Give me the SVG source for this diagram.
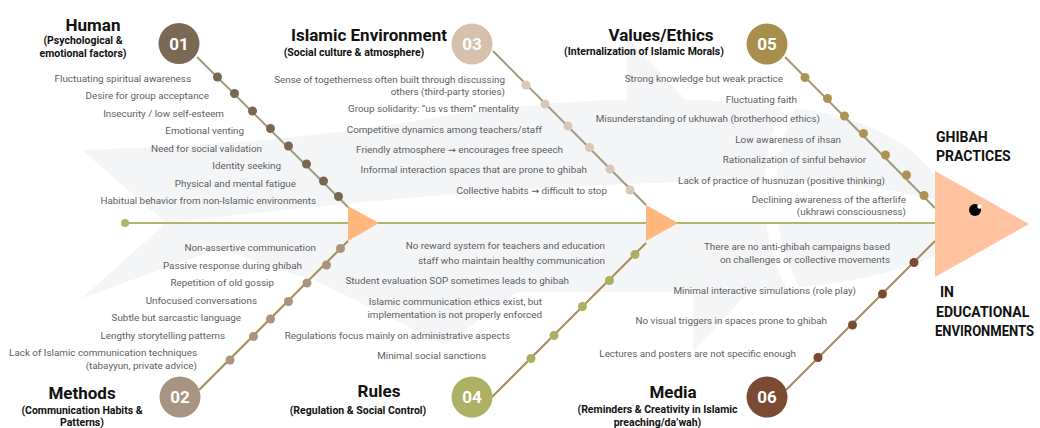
<svg xmlns="http://www.w3.org/2000/svg" width="1040" height="428" viewBox="0 0 1040 428">
  <style>
    text { font-family: Roboto, "Liberation Sans", Arial, sans-serif; }
    .lbl { font-size: 9.85px; fill: #5e5e5e; text-anchor: end; }
    .arr { font-family: "DejaVu Sans", sans-serif; font-size: 9.5px; }
    .ttl { font-size: 17px; font-weight: bold; fill: #111; text-anchor: middle; }
    .sub { font-size: 10.5px; font-weight: bold; fill: #111; text-anchor: middle; }
    .num { font-size: 17px; font-weight: bold; fill: #fff; text-anchor: middle; }
    .eff { font-size: 14px; font-weight: bold; fill: #111; }
    .bone-top { stroke: #9e9b7e; stroke-width: 2; fill: none; }
    .bone-bot { stroke: #a98c55; stroke-width: 2; fill: none; }
    .wm { fill: #f4f5f7; }
  </style>

  <rect width="1040" height="428" fill="#ffffff"/>

  <!-- faint fish-skeleton watermark -->
  <g id="watermark">
    <path class="wm" d="M82,150 C200,146 300,140 420,120 C560,96 700,92 820,112 C880,124 918,150 935,176 L935,200 C880,186 820,180 760,182 C600,180 400,196 166,223 Z"/>
    <path class="wm" d="M166,223 L935,223 L935,256 C880,280 800,292 700,292 L400,292 C320,290 250,262 166,223 Z"/>
    <path class="wm" d="M82,298 L166,223 L240,241 Z"/>
    <polygon class="wm" points="627,38 686,100 627,100"/>
    <polygon class="wm" points="693,288 693,352 752,288"/>
    <polygon class="wm" points="290,268 445,345 520,290"/>
    <path d="M790,106 C762,160 762,240 800,300" stroke="#fff" stroke-width="12" fill="none"/>
  </g>

  <!-- connectors: spine and branches -->
  <g id="connectors">
    <line x1="125" y1="223" x2="935" y2="223" stroke="#b2b46c" stroke-width="2"/>
    <circle cx="125" cy="223" r="4" fill="#b2b46c"/>
    <line class="bone-top" x1="197" y1="57" x2="348" y2="207"/>
    <line class="bone-top" x1="493" y1="51" x2="646" y2="205"/>
    <line class="bone-top" x1="785" y1="57" x2="935" y2="208"/>
    <line class="bone-bot" x1="199" y1="390" x2="348" y2="241"/>
    <line class="bone-bot" x1="491" y1="398" x2="646" y2="243"/>
    <line class="bone-bot" x1="786" y1="390" x2="935" y2="241"/>
    <polygon points="348,206 379,223 348,241" fill="#ffb77d"/>
    <polygon points="646,205 678,223 646,241" fill="#ffb77d"/>
  </g>

  <!-- 01 Human -->
  <g id="node-human">
    <text class="ttl" x="93" y="30.5">Human</text>
    <text class="sub" x="83" y="44">(Psychological &amp;</text>
    <text class="sub" x="83" y="56.5">emotional factors)</text>
    <circle cx="179" cy="43.5" r="20.5" fill="#7c6954"/>
    <text class="num" x="179" y="49.5">01</text>
    <g fill="#7a6752">
      <circle cx="217.5" cy="77" r="4.5"/><circle cx="234.5" cy="93.5" r="4.5"/>
      <circle cx="252.5" cy="111" r="4.5"/><circle cx="270.5" cy="128.5" r="4.5"/>
      <circle cx="288.5" cy="146" r="4.5"/><circle cx="306.5" cy="164" r="4.5"/>
      <circle cx="323.5" cy="181" r="4.5"/><circle cx="338.5" cy="196.5" r="4.5"/>
    </g>
    <text class="lbl" x="191" y="81.5">Fluctuating spiritual awareness</text>
    <text class="lbl" x="209" y="99">Desire for group acceptance</text>
    <text class="lbl" x="224" y="116.5">Insecurity / low self-esteem</text>
    <text class="lbl" x="244" y="134">Emotional venting</text>
    <text class="lbl" x="262" y="151.5">Need for social validation</text>
    <text class="lbl" x="281" y="169">Identity seeking</text>
    <text class="lbl" x="296" y="186.5">Physical and mental fatigue</text>
    <text class="lbl" x="316" y="204">Habitual behavior from non-Islamic environments</text>
  </g>

  <!-- 03 Islamic Environment -->
  <g id="node-environment">
    <text class="ttl" x="369" y="40.5">Islamic Environment</text>
    <text class="sub" x="354" y="55.5">(Social culture &amp; atmosphere)</text>
    <circle cx="472" cy="44" r="20.5" fill="#d7c1ad"/>
    <text class="num" x="472" y="50">03</text>
    <g fill="#dac7b5">
      <circle cx="526" cy="85" r="4.5"/><circle cx="545" cy="104" r="4.5"/>
      <circle cx="568" cy="126" r="4.5"/><circle cx="589.5" cy="147.5" r="4.5"/>
      <circle cx="610" cy="169" r="4.5"/><circle cx="630" cy="190" r="4.5"/>
    </g>
    <text class="lbl" x="505" y="82.5">Sense of togetherness often built through discussing</text>
    <text class="lbl" x="505" y="95">others (third-party stories)</text>
    <text class="lbl" x="519" y="112">Group solidarity: “us vs them” mentality</text>
    <text class="lbl" x="542" y="132.5">Competitive dynamics among teachers/staff</text>
    <text class="lbl" x="563" y="153">Friendly atmosphere <tspan class="arr">→</tspan> encourages free speech</text>
    <text class="lbl" x="587" y="173">Informal interaction spaces that are prone to ghibah</text>
    <text class="lbl" x="607" y="193.5">Collective habits <tspan class="arr">→</tspan> difficult to stop</text>
  </g>

  <!-- 05 Values/Ethics -->
  <g id="node-values">
    <text class="ttl" x="661" y="40.5">Values/Ethics</text>
    <text class="sub" x="644" y="55">(Internalization of Islamic Morals)</text>
    <circle cx="767" cy="44" r="20.5" fill="#a78e4c"/>
    <text class="num" x="767" y="50">05</text>
    <g fill="#ae944f">
      <circle cx="805" cy="77.5" r="4.5"/><circle cx="827.5" cy="98.5" r="4.5"/>
      <circle cx="844.5" cy="116" r="4.5"/><circle cx="863.5" cy="133.5" r="4.5"/>
      <circle cx="885.5" cy="155" r="4.5"/><circle cx="906.5" cy="175" r="4.5"/>
      <circle cx="924" cy="195.5" r="4.5"/>
    </g>
    <text class="lbl" x="783" y="82">Strong knowledge but weak practice</text>
    <text class="lbl" x="797" y="102.5">Fluctuating faith</text>
    <text class="lbl" x="820" y="122">Misunderstanding of ukhuwah (brotherhood ethics)</text>
    <text class="lbl" x="841" y="142.5">Low awareness of ihsan</text>
    <text class="lbl" x="866" y="162.5">Rationalization of sinful behavior</text>
    <text class="lbl" x="885" y="183.5">Lack of practice of husnuzan (positive thinking)</text>
    <text class="lbl" x="906" y="202.5">Declining awareness of the afterlife</text>
    <text class="lbl" x="906" y="215">(ukhrawi consciousness)</text>
  </g>

  <!-- 02 Methods -->
  <g id="node-methods">
    <text class="ttl" x="82" y="399">Methods</text>
    <text class="sub" x="82" y="413.5">(Communication Habits &amp;</text>
    <text class="sub" x="82" y="425.5">Patterns)</text>
    <circle cx="180" cy="397" r="20.5" fill="#a99481"/>
    <text class="num" x="180" y="403">02</text>
    <g fill="#aa9480">
      <circle cx="340.5" cy="248.5" r="4.5"/><circle cx="326.5" cy="265" r="4.5"/>
      <circle cx="307" cy="283" r="4.5"/><circle cx="288.5" cy="301.5" r="4.5"/>
      <circle cx="270.5" cy="319" r="4.5"/><circle cx="253.5" cy="336.5" r="4.5"/>
      <circle cx="230" cy="360" r="4.5"/>
    </g>
    <text class="lbl" x="316" y="251">Non-assertive communication</text>
    <text class="lbl" x="302" y="268.5">Passive response during ghibah</text>
    <text class="lbl" x="274" y="286">Repetition of old gossip</text>
    <text class="lbl" x="257" y="304">Unfocused conversations</text>
    <text class="lbl" x="241" y="321">Subtle but sarcastic language</text>
    <text class="lbl" x="225" y="339">Lengthy storytelling patterns</text>
    <text class="lbl" x="197" y="355.5">Lack of Islamic communication techniques</text>
    <text class="lbl" x="197" y="368.5">(tabayyun, private advice)</text>
  </g>

  <!-- 04 Rules -->
  <g id="node-rules">
    <text class="ttl" x="379" y="397">Rules</text>
    <text class="sub" x="358" y="414">(Regulation &amp; Social Control)</text>
    <circle cx="472" cy="397" r="20.5" fill="#aeb065"/>
    <text class="num" x="472" y="403">04</text>
    <g fill="#a9b062">
      <circle cx="635" cy="254.5" r="4.5"/><circle cx="609.5" cy="280.5" r="4.5"/>
      <circle cx="582.5" cy="306.5" r="4.5"/><circle cx="554" cy="335.5" r="4.5"/>
      <circle cx="531" cy="358.5" r="4.5"/>
    </g>
    <text class="lbl" x="605" y="249">No reward system for teachers and education</text>
    <text class="lbl" x="605" y="263.5">staff who maintain healthy communication</text>
    <text class="lbl" x="569" y="284">Student evaluation SOP sometimes leads to ghibah</text>
    <text class="lbl" x="542" y="304.5">Islamic communication ethics exist, but</text>
    <text class="lbl" x="542" y="318">implementation is not properly enforced</text>
    <text class="lbl" x="510" y="339">Regulations focus mainly on administrative aspects</text>
    <text class="lbl" x="486" y="359">Minimal social sanctions</text>
  </g>

  <!-- 06 Media -->
  <g id="node-media">
    <text class="ttl" x="673" y="398">Media</text>
    <text class="sub" x="657.5" y="412.5">(Reminders &amp; Creativity in Islamic</text>
    <text class="sub" x="657.5" y="426">preaching/da’wah)</text>
    <circle cx="767" cy="397" r="20.5" fill="#7a4a32"/>
    <text class="num" x="767" y="403">06</text>
    <g fill="#7b4a33">
      <circle cx="914" cy="262.5" r="4.5"/><circle cx="882.5" cy="294" r="4.5"/>
      <circle cx="852.5" cy="325" r="4.5"/><circle cx="818" cy="357.5" r="4.5"/>
    </g>
    <text class="lbl" x="890" y="250">There are no anti-ghibah campaigns based</text>
    <text class="lbl" x="890" y="263">on challenges or collective movements</text>
    <text class="lbl" x="856" y="294">Minimal interactive simulations (role play)</text>
    <text class="lbl" x="827" y="324">No visual triggers in spaces prone to ghibah</text>
    <text class="lbl" x="796" y="357">Lectures and posters are not specific enough</text>
  </g>

  <!-- fish head: the effect -->
  <g id="node-effect">
    <text class="eff" x="936" y="141.5">GHIBAH</text>
    <text class="eff" x="936" y="160.5">PRACTICES</text>
    <polygon points="935,171 1029,224 935,277" fill="#ffc29e"/>
    <circle cx="975" cy="210" r="6" fill="#000"/>
    <circle cx="979.5" cy="206.5" r="2.2" fill="#fff"/>
    <text class="eff" x="940" y="296.5">IN</text>
    <text class="eff" x="936" y="316.5">EDUCATIONAL</text>
    <text class="eff" x="935" y="335.5" textLength="99" lengthAdjust="spacingAndGlyphs">ENVIRONMENTS</text>
  </g>
</svg>
